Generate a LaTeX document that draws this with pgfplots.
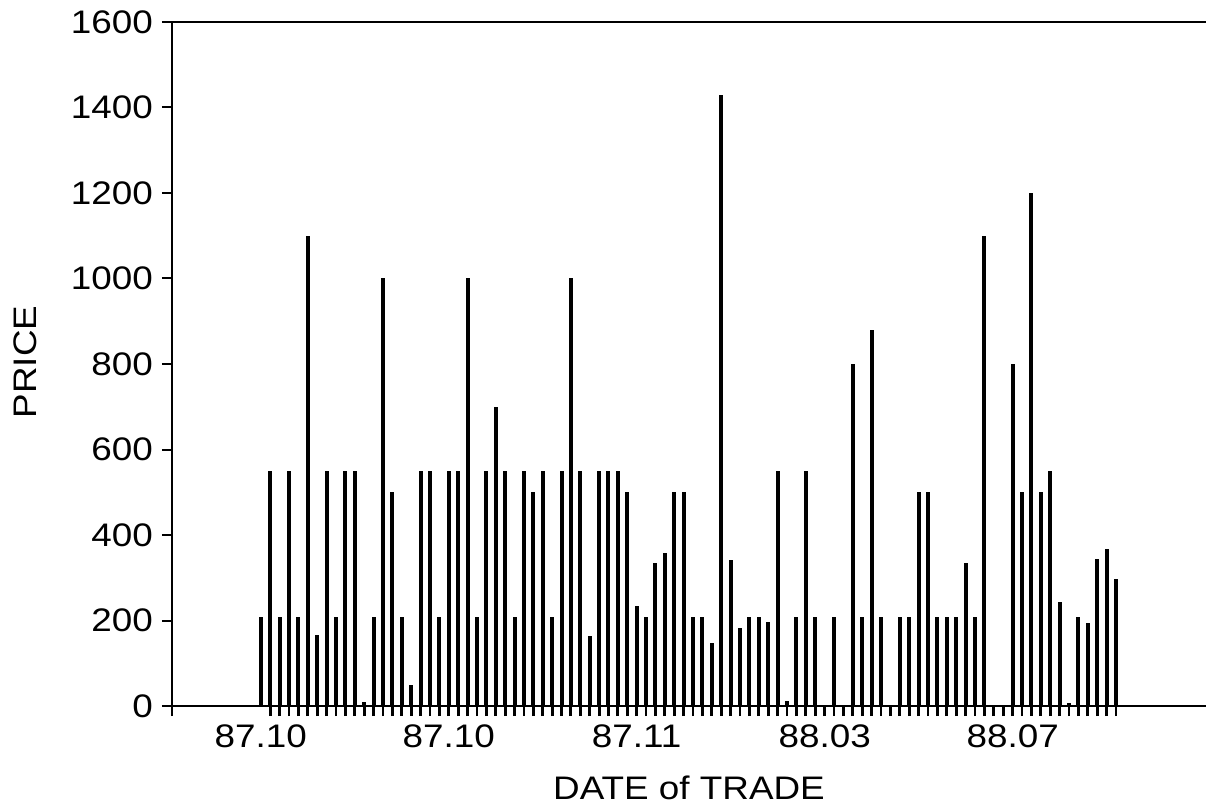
\documentclass[border=0pt]{standalone}
\usepackage{fontspec}
\setmainfont{Liberation Sans}[FakeStretch=1.13]
\usepackage{pgfplots}
\pgfplotsset{compat=1.18}
\usepackage{pgfplotstable}
\pgfplotstableread{
idx price
0 208
1 550
2 208
3 550
4 208
5 1100
6 165
7 550
8 208
9 550
10 550
11 10
12 208
13 1000
14 500
15 208
16 50
17 550
18 550
19 208
20 550
21 550
22 1000
23 208
24 550
25 700
26 550
27 208
28 550
29 500
30 550
31 208
32 550
33 1000
34 550
35 163
36 550
37 550
38 550
39 500
40 233
41 208
42 335
43 357
44 500
45 500
46 208
47 208
48 148
49 1430
50 341
51 183
52 208
53 208
54 197
55 550
56 11
57 208
58 550
59 208
61 208
63 800
64 208
65 880
66 208
68 208
69 208
70 500
71 500
72 208
73 208
74 208
75 335
76 208
77 1100
80 800
81 500
82 1200
83 500
84 550
85 244
86 7
87 208
88 195
89 343
90 367
91 296
}\trades
\begin{document}
\begin{tikzpicture}
\useasboundingbox (-86pt,-49pt) rectangle (517pt,353pt);
\begin{axis}[
  name=ax,
  at={(0pt,0pt)}, anchor=south west,
  scale only axis,
  width=517pt, height=342pt,
  xmin=-9.44, xmax=100.57,
  ymin=0, ymax=1600,
  axis x line*=bottom,
  axis y line*=left,
  tick align=outside,
  major tick length=5pt,
  xtick={1,2,...,91},
  xticklabels={},
  x tick style={black, line width=1.4pt},
  extra x ticks={0,20,40,60,80},
  extra x tick labels={87.10,87.10,87.11,88.03,88.07},
  extra x tick style={major tick length=0pt},
  ytick={0,200,...,1600},
  y tick style={black, line width=1pt},
  tick label style={font=\fontsize{16.3}{19}\selectfont},
  /pgf/number format/assume math mode=true,
  /pgf/number format/1000 sep={},
  xticklabel style={yshift=-6pt},
  yticklabel style={xshift=-1pt},
  xlabel={DATE of TRADE},
  xlabel style={font=\fontsize{16.3}{19}\selectfont, at={(axis description cs:0.5,-0.1374)}, anchor=base},
  ylabel={PRICE},
  ylabel style={font=\fontsize{16.3}{19}\selectfont, at={(axis description cs:-0.1422,0.503)}, anchor=center, rotate=0},
]
\addplot[ycomb, black, line width=2pt] table[x=idx, y=price] {\trades};
\end{axis}
\draw[line width=1pt] (0pt,0pt) -- (517pt,0pt);
\draw[line width=1pt] (0pt,-5pt) -- (0pt,342pt);
\draw[line width=0.8pt] (0pt,342pt) -- (517pt,342pt);
\foreach \i in {1,...,91} {
  \draw[line width=1.4pt] ({(\i+9.44)*4.69957pt},0pt) -- ({(\i+9.44)*4.69957pt},-5pt);
}
\end{tikzpicture}
\end{document}
